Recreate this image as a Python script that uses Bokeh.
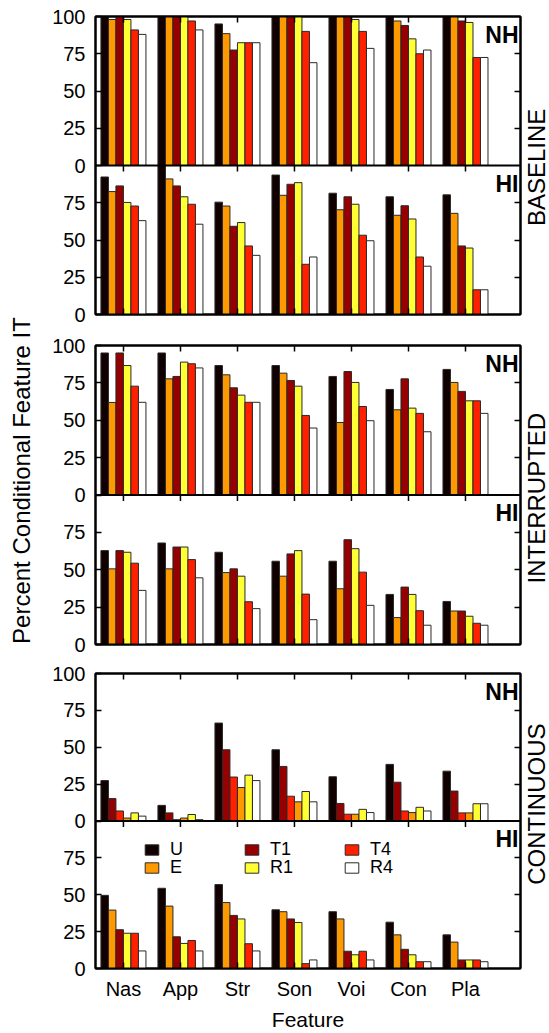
import numpy as np
from bokeh.plotting import figure
from bokeh.models import (Range1d, LinearAxis, FixedTicker, Legend, LegendItem,
                          Label, Span)
from bokeh.layouts import column, row
from bokeh.embed import file_html
from bokeh.resources import INLINE

features = ["Nas", "App", "Str", "Son", "Voi", "Con", "Pla"]
series = ["U", "E", "T1", "R1", "T4", "R4"]
colors = {"U": "#100000", "E": "#ff9900", "T1": "#960000",
          "R1": "#ffff33", "T4": "#ff2000", "R4": "#ffffff"}

# ---- data (percent conditional feature IT) ----
baseline_nh = {
    "U":  [100, 100, 95, 100, 100, 100, 100],
    "E":  [98, 100, 88.5, 100, 100, 97, 100],
    "T1": [100, 100, 77.5, 100, 100, 94, 97],
    "R1": [98, 100, 82.4, 100, 98, 85, 96],
    "T4": [91, 97, 82.4, 90, 90, 75, 72.5],
    "R4": [88, 91, 82.4, 69, 78.6, 77.5, 72.5],
}
baseline_hi = {
    "U":  [92.3, 100, 75.4, 93.6, 81.4, 79, 80.3],
    "E":  [82.5, 91, 72.8, 80, 70.3, 66.6, 67.9],
    "T1": [86.3, 86.3, 59.2, 87.4, 79, 73, 46],
    "R1": [75.2, 79, 61.7, 88.5, 74, 64.1, 44.6],
    "T4": [72.8, 74, 46, 33.7, 53.2, 38.6, 16.6],
    "R4": [63, 60.6, 39.7, 38.6, 49.5, 32.4, 16.6],
}
interrupted_nh = {
    "U":  [95, 95, 86.6, 86.6, 79.3, 70.6, 84],
    "E":  [61.9, 77.7, 80.4, 81.5, 48.5, 57, 75.3],
    "T1": [95, 79.3, 71.7, 76.6, 82.6, 77.7, 69.3],
    "R1": [86.6, 88.9, 66.8, 72.8, 75.3, 58.1, 63],
    "T4": [72.8, 87.8, 62, 53.2, 59.2, 54.6, 63],
    "R4": [62, 85, 62, 44.8, 49.7, 42.3, 54.6],
}
interrupted_hi = {
    "U":  [62.8, 67.9, 61.7, 55.7, 55.7, 33.5, 28.8],
    "E":  [50.6, 50.6, 48.1, 45.7, 37.3, 18, 22.4],
    "T1": [62.8, 65.2, 50.6, 60.6, 70.1, 38.4, 22.4],
    "R1": [61.7, 65.2, 45.7, 62.8, 64.1, 33.5, 18.9],
    "T4": [54.4, 56.8, 28.6, 33.7, 48.4, 22.6, 14.2],
    "R4": [36.2, 44.6, 24, 16.6, 26.2, 12.9, 12.9],
}
continuous_nh = {
    "U":  [27.4, 10.6, 66.4, 48.3, 30, 38.4, 33.8],
    "T1": [15.2, 5.5, 48.3, 37, 11.9, 26.3, 20.3],
    "T4": [6.8, 0.9, 29.8, 16.8, 4.6, 6.8, 5.5],
    "E":  [2, 2, 22.7, 13, 4.6, 5.7, 5.5],
    "R1": [5.5, 4.4, 31.1, 20, 7.9, 9.3, 11.7],
    "R4": [3.3, 0.9, 27.4, 13, 5.7, 6.8, 11.7],
}
continuous_hi = {
    "U":  [49.6, 54.4, 56.9, 39.8, 38.5, 31.4, 22.8],
    "E":  [39.6, 42.3, 44.7, 38.5, 33.6, 22.8, 17.9],
    "T1": [26.3, 21.5, 36, 33.6, 11.7, 13, 5.8],
    "R1": [23.9, 17, 33.6, 31.2, 9.3, 9.3, 5.8],
    "T4": [23.9, 19, 16.8, 3.3, 11.7, 4.6, 5.8],
    "R4": [11.9, 11.9, 11.9, 5.8, 5.8, 4.6, 4.6],
}
order_default = ["U", "E", "T1", "R1", "T4", "R4"]
order_cont_nh = ["U", "T1", "T4", "E", "R1", "R4"]

hi_ticks = [0, 25, 50, 75]
nh_ticks = [0, 25, 50, 75, 100]

FONT = "Liberation Sans"
BAR_W = 0.1316


def style_axis(ax, labels=True):
    ax.axis_line_width = 2
    ax.axis_line_color = "black"
    ax.major_tick_in = 6
    ax.major_tick_out = 0
    ax.major_tick_line_width = 1.5
    ax.minor_tick_line_color = None
    ax.major_label_text_font = FONT
    if labels:
        ax.major_label_text_font_size = "20px"
        ax.major_label_text_color = "black"
    else:
        ax.major_label_text_font_size = "0px"
        ax.major_label_text_color = None
        ax.major_label_standoff = 0


def make_pair(nh, hi, nh_order, hi_order, height, mb_top, mb_bottom, bottom=False):
    p = figure(width=484, height=height, x_range=Range1d(-0.49, 6.965),
               y_range=Range1d(0, 200), output_backend="svg",
               toolbar_location=None, x_axis_location=None, y_axis_location=None,
               min_border_left=57, min_border_right=2,
               min_border_top=mb_top, min_border_bottom=mb_bottom)
    p.extra_y_ranges = {"nh": Range1d(-100, 100)}
    p.grid.visible = False
    p.outline_line_color = "black"
    p.outline_line_width = 2
    p.background_fill_color = "white"
    p.border_fill_color = "white"

    xs = np.arange(len(features))
    # inner ticks on the shared border (top of HI panel)
    p.segment(x0=xs, y0=100, x1=xs, y1=96, line_color="black", line_width=1.5)

    rend = {}
    for j, s in enumerate(hi_order):
        rend[s] = p.vbar(x=xs + (j - 2.5) * BAR_W, top=hi[s], bottom=0, width=BAR_W,
                         fill_color=colors[s], line_color="#2a2a2a", line_width=1)
    for j, s in enumerate(nh_order):
        p.vbar(x=xs + (j - 2.5) * BAR_W, top=nh[s], bottom=0, width=BAR_W,
               fill_color=colors[s], line_color="#2a2a2a", line_width=1,
               y_range_name="nh")

    p.add_layout(Span(location=100, dimension="width", line_color="black", line_width=2))

    # left axis: HI ticks on lower half, NH ticks on upper half
    lticks = hi_ticks + [t + 100 for t in nh_ticks]
    overrides = {t + 100: str(t) for t in nh_ticks}
    left = LinearAxis(ticker=FixedTicker(ticks=lticks), major_label_overrides=overrides)
    style_axis(left)
    left.major_label_standoff = 10
    p.add_layout(left, "left")

    rticks = [25, 50, 75, 125, 150, 175]
    right = LinearAxis(ticker=FixedTicker(ticks=rticks))
    style_axis(right, labels=False)
    p.add_layout(right, "right")

    above = LinearAxis(ticker=FixedTicker(ticks=list(xs)))
    style_axis(above, labels=False)
    p.add_layout(above, "above")

    below = LinearAxis(ticker=FixedTicker(ticks=list(xs)))
    if bottom:
        style_axis(below)
        below.major_label_overrides = {i: f for i, f in enumerate(features)}
        below.major_label_standoff = 9
        below.axis_label = "Feature"
        below.axis_label_text_font = FONT
        below.axis_label_text_font_size = "21px"
        below.axis_label_text_font_style = "normal"
        below.axis_label_text_color = "black"
        below.axis_label_standoff = 5
    else:
        style_axis(below, labels=False)
    p.add_layout(below, "below")

    p.add_layout(Label(x=6.93, y=96.6, text="NH", text_align="right", text_baseline="top",
                       text_font=FONT, text_font_style="bold", text_font_size="23px",
                       text_color="black", y_range_name="nh"))
    p.add_layout(Label(x=6.93, y=96.6, text="HI", text_align="right", text_baseline="top",
                       text_font=FONT, text_font_style="bold", text_font_size="23px",
                       text_color="black"))
    return p, rend


def label_fig(w, h, text, x, y, size):
    f = figure(width=w, height=h, x_range=Range1d(0, w), y_range=Range1d(0, h),
               output_backend="svg", toolbar_location=None, min_border=0,
               x_axis_location=None, y_axis_location=None)
    f.grid.visible = False
    f.outline_line_color = None
    f.add_layout(Label(x=x, y=y, text=text, angle=90, angle_units="deg",
                       text_align="center", text_baseline="middle",
                       text_font=FONT, text_font_size=size, text_color="black"))
    return f


p1, _ = make_pair(baseline_nh, baseline_hi, order_default, order_default, 326, 16, 12)
p2, _ = make_pair(interrupted_nh, interrupted_hi, order_default, order_default, 330, 19, 12)
p3, rend = make_pair(continuous_nh, continuous_hi, order_cont_nh, order_default, 377, 17, 60,
                     bottom=True)

# legend: 3 columns x 2 rows
for idx, s in enumerate(series):
    col, rw = idx // 2, idx % 2
    leg = Legend(items=[LegendItem(label=s, renderers=[rend[s]])],
                 location=(48 + 100 * col, 108 - 18 * rw),
                 padding=0, margin=0, spacing=0,
                 border_line_color=None, background_fill_alpha=0,
                 glyph_width=17, glyph_height=13, label_height=13,
                 label_standoff=10, label_text_font=FONT,
                 label_text_font_size="18px", label_text_color="black")
    p3.add_layout(leg)

lab1 = label_fig(27, 326, "BASELINE", 13.5, 326 - 165, "24px")
lab2 = label_fig(27, 330, "INTERRUPTED", 13.5, 330 - (494.5 - 326), "24px")
lab3 = label_fig(27, 377, "CONTINUOUS", 13.5, 377 - (823 - 656), "24px")
ylab = label_fig(38, 1033, "Percent Conditional Feature IT", 21, 1033 - 480, "24px")

layout = row(ylab, column(row(p1, lab1), row(p2, lab2), row(p3, lab3)))

open("out.html", "w").write(file_html(layout, INLINE))
